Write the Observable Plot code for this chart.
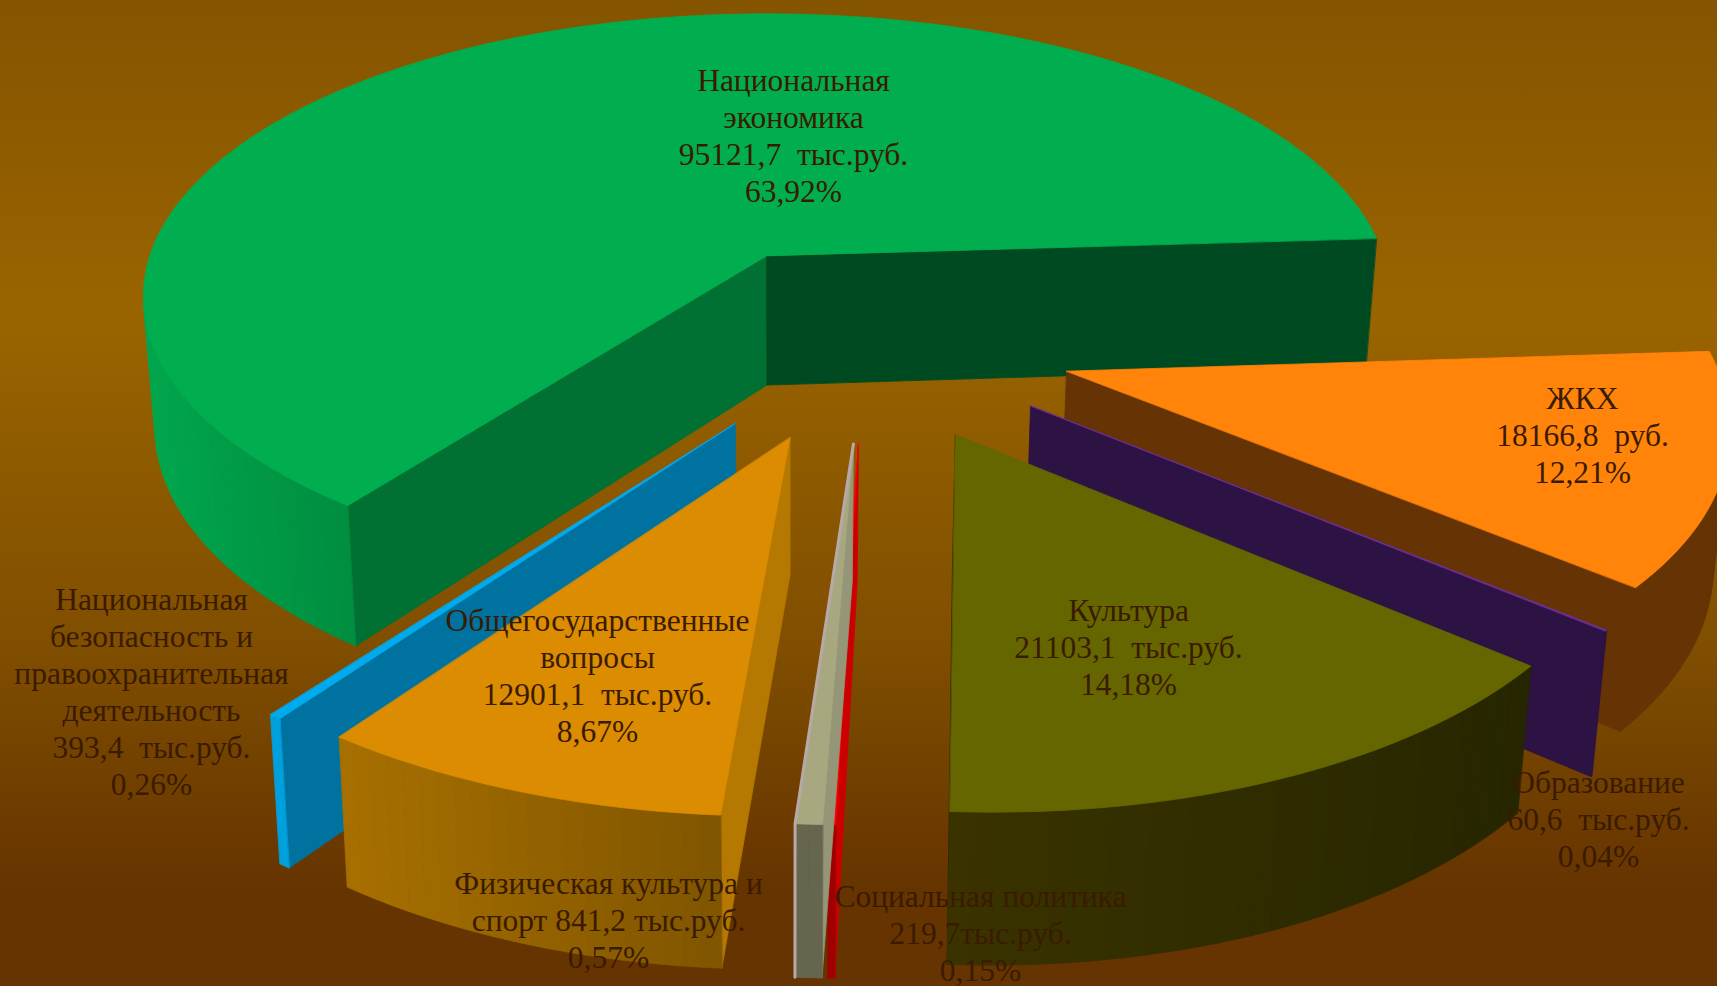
<!doctype html>
<html><head><meta charset="utf-8">
<script src="https://cdn.jsdelivr.net/npm/d3@7"></script>
<script src="https://cdn.jsdelivr.net/npm/@observablehq/plot@0.6"></script>
<style>html,body{margin:0;padding:0;overflow:hidden;background:#663400}svg{display:block}</style>
</head><body><script>
// Clockwise from the right-hand edge of the big green slice
const names = ["ЖКХ","Образование","Культура","Социальная политика","Физическая культура и спорт","Общегосударственные вопросы","Национальная безопасность и правоохранительная деятельность","Национальная экономика"];
const values = [18166.8,60.6,21103.1,219.7,841.2,12901.1,393.4,95121.7];
const labelTexts = [
 "ЖКХ\n18166,8\u00a0 руб.\n12,21%",
 "Образование\n60,6\u00a0 тыс.руб.\n0,04%",
 "Культура\n21103,1\u00a0 тыс.руб.\n14,18%",
 "Социальная политика\n219,7тыс.руб.\n0,15%",
 "Физическая культура и\nспорт 841,2 тыс.руб.\n0,57%",
 "Общегосударственные\nвопросы\n12901,1\u00a0 тыс.руб.\n8,67%",
 "Национальная\nбезопасность и\nправоохранительная\nдеятельность\n393,4\u00a0 тыс.руб.\n0,26%",
 "Национальная\nэкономика\n95121,7\u00a0 тыс.руб.\n63,92%"
];
const labelX = [1582,1598,1128,980,608,597,151,793];
const labelY = [434,818,646,932,919,674,690,134];
const topColors  = ["#ff8409","#7030a0","#666600","#ff0000","#a8a880","#dc8c00","#00aaef","#00ae4f"];
const startWalls = ["#663305","#2d1244","#2a2a00","#cc0000","#959577","#b57800","#0072a0","#007033"];
const endWalls   = ["#663305","#2d1244","#2a2a00","#a00000","#b8a8a8","#a87000","#0072a0","#004a22"];
const rimLeft    = ["#663305","#2d1244","#3a3300","#a00000","#66664f","#a87000","#00a0dc","#00a74d"];
const rimRight   = ["#663305","#2d1244","#262600","#a00000","#66664f","#7f5500","#00a0dc","#008c3f"];
const paintOrder = [7,0,1,2,6,5,3,4];
const greenIndex = 7;

// Camera / pie layout
const startDeg = -3.7, explode = 0.33, center = [0.145, 0.29], greenShift = 0.013, greenTurnDeg = 0.8;
const persp = -0.143, wall = 0.457, wallPersp = -0.1, shrink = 0.018, vanishX = 0.035;
// the exploded slices read slightly smaller and turned on the picture
const turnDeg = d3.scaleLinear([40, 91, 130], [0, 1.45, 1.45]).clamp(true);
const radiusAt = d3.scaleLinear([-4, 40, 91, 130], [1.0, 0.975, 0.97, 0.99]).clamp(true);

function project(X, Y, bottom) {
  const d = 1 + persp * Y;
  const yp = (Y + persp) / d, xp = X * Math.sqrt(1 - persp * persp) / d;
  if (!bottom) return {x: xp, y: yp};
  return {x: vanishX + (xp - vanishX) * (1 - shrink), y: yp + wall / (1 + wallPersp * Y)};
}
const area = (p) => d3.sum(p, (a, i) => { const b = p[(i + 1) % p.length]; return a.x * b.y - b.x * a.y; });

const total = d3.sum(values);
let a0 = startDeg * Math.PI / 180;
const slices = values.map((v, i) => {
  const sweep = v / total * 2 * Math.PI, s = {i, a0, a1: a0 + sweep};
  const m = a0 + sweep / 2;
  s.ax = center[0] + explode * Math.cos(m) + (i === greenIndex ? greenShift : 0);
  s.ay = center[1] + explode * Math.sin(m);
  a0 += sweep;
  return s;
});

const rows = [];
let pid = 0;
function poly(pts, fill) { const id = pid++; for (const p of pts) rows.push({id, x: p.x, y: p.y, fill}); }
function rim(s, a, b) {
  if (s.i === greenIndex) {
    const t = a + (greenTurnDeg * Math.PI / 180) * (s.a1 - a) / (s.a1 - s.a0);
    return project(s.ax + Math.cos(t), s.ay + Math.sin(t), b);
  }
  const deg = a * 180 / Math.PI, t = a + turnDeg(deg) * Math.PI / 180, r = radiusAt(deg);
  return project(s.ax + r * Math.cos(t), s.ay + r * Math.sin(t), b);
}

const lips = [];
for (const k of paintOrder) {
  const s = slices[k];
  const n = Math.max(1, Math.ceil((s.a1 - s.a0) / (1.5 * Math.PI / 180)));
  const angles = d3.range(n + 1).map(j => s.a0 + (s.a1 - s.a0) * j / n);
  const At = project(s.ax, s.ay, false), Ab = project(s.ax, s.ay, true);
  // radial walls, only when facing the camera
  const w0 = [At, rim(s, s.a0, false), rim(s, s.a0, true), Ab];
  if (area(w0) < 0) poly(w0, startWalls[k]);
  const w1 = [rim(s, s.a1, false), At, Ab, rim(s, s.a1, true)];
  if (area(w1) < 0) poly(w1, endWalls[k]);
  // outer wall in thin bands
  const quads = [];
  for (let j = 0; j < n; j++) {
    const q = [rim(s, angles[j], false), rim(s, angles[j + 1], false), rim(s, angles[j + 1], true), rim(s, angles[j], true)];
    if (area(q) < 0) quads.push(q);
  }
  const xs = quads.flat().map(p => p.x), x0 = d3.min(xs), x1 = d3.max(xs);
  const col = d3.interpolateRgb(rimLeft[k], rimRight[k]);
  for (const q of quads) poly(q, d3.color(col(((q[0].x + q[1].x) / 2 - x0) / (x1 - x0 || 1))).formatHex());
  // top face
  poly([At, ...angles.map(a => rim(s, a, false))], topColors[k]);
  if (k === 4) lips.push(At, rim(s, s.a1, false), rim(s, s.a1, true));
}

const labels = labelTexts.map((t, i) => ({t, x: labelX[i], y: labelY[i]}));
const toPx = {x: d3.scaleLinear([-1, 1], [143.4, 1389.6]), y: d3.scaleLinear([-1, 1], [13.2, 578.2])};

const chart = Plot.plot({
  width: 1717, height: 986, margin: 0,
  x: {domain: toPx.x.domain(), range: toPx.x.range(), axis: null},
  y: {domain: toPx.y.domain(), range: toPx.y.range(), axis: null},
  color: {type: "identity"},
  style: {background: "linear-gradient(180deg,#855400 0%,#9a6400 32%,#7f4e00 66%,#663400 90%,#663400 100%)", overflow: "hidden"},
  marks: [
    Plot.line(rows, {x: "x", y: "y", z: "id", fill: "fill", stroke: "fill", strokeWidth: 0.8, curve: "linear-closed"}),
    Plot.line(lips, {x: "x", y: "y", stroke: endWalls[4], strokeWidth: 3}),
    Plot.text(labels, {
      x: d => toPx.x.invert(d.x), y: d => toPx.y.invert(d.y), text: "t",
      fontFamily: "'Liberation Serif'", fontSize: 31.5, lineHeight: 1.175, fill: "#3a1b00", textAnchor: "middle", lineAnchor: "middle"
    })
  ]
});
document.body.appendChild(chart);
</script></body></html>
